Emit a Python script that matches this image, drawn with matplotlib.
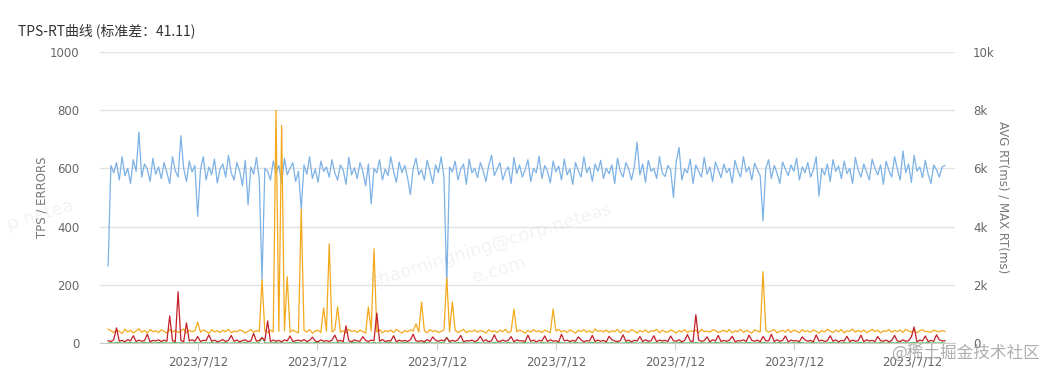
import numpy as np
import matplotlib.pyplot as plt

plt.rcParams['font.family'] = ['DejaVu Sans', 'Noto Sans CJK SC']

# TPS (left axis)
tps = [265, 610, 585, 620, 560, 640, 575, 600, 548, 630, 590, 725, 570, 615, 598, 555, 635, 580, 605, 565,
       620, 585, 548, 640, 592, 570, 712, 600, 555, 625, 588, 610, 435, 595, 640, 560, 605, 578, 632, 550,
       598, 615, 570, 645, 585, 560, 620, 592, 540, 628, 475, 605, 580, 638, 565, 215, 600, 590, 560, 625,
       585, 610, 548, 635, 578, 600, 620, 555, 590, 460, 612, 580, 640, 565, 598, 552, 625, 590, 605, 570,
       630, 585, 560, 612, 595, 545, 638, 578, 602, 565, 620, 590, 540, 615, 478, 600, 585, 630, 560, 598,
       575, 640, 590, 552, 622, 585, 610, 568, 510, 600, 635, 578, 595, 560, 628, 590, 548, 612, 585, 640,
       570, 200, 605, 588, 625, 560, 598, 615, 545, 632, 585, 600, 568, 620, 592, 555, 610, 645, 575, 598,
       620, 560, 590, 605, 548, 638, 582, 612, 570, 595, 630, 555, 600, 585, 642, 565, 610, 590, 550, 625,
       588, 608, 560, 632, 578, 598, 545, 620, 592, 570, 640, 585, 605, 555, 615, 590, 628, 565, 600, 582,
       612, 548, 635, 590, 570, 620, 598, 560, 605, 690, 578, 615, 552, 628, 590, 600, 565, 640, 585, 572,
       610, 595, 500, 625, 672, 560, 598, 585, 632, 548, 612, 590, 570, 638, 580, 605, 555, 622, 595, 568,
       615, 585, 600, 550, 628, 592, 570, 640, 588, 605, 560, 618, 595, 575, 420, 600, 630, 565, 610, 585,
       548, 622, 598, 575, 612, 590, 635, 560, 605, 585, 620, 570, 595, 640, 505, 600, 578, 615, 555, 630,
       590, 608, 565, 625, 582, 600, 548, 638, 595, 570, 615, 588, 560, 632, 600, 578, 612, 545, 625, 592,
       570, 640, 598, 560, 660, 585, 615, 552, 645, 590, 605, 568, 628, 580, 548, 612, 595, 570, 605, 610]

# MAX RT in ms (right axis)
max_rt = [480, 420, 360, 450, 400, 330, 470, 380, 440, 350, 410, 490, 370, 430, 340, 460, 390, 420, 360, 450,
          400, 340, 470, 380, 430, 360, 410, 480, 350, 440, 390, 420, 720, 370, 450, 400, 330, 460, 380, 420,
          360, 440, 390, 470, 350, 410, 380, 450, 420, 340, 400, 460, 370, 430, 390, 2170, 410, 360, 440, 380,
          8000, 400, 7480, 420, 2280, 370, 450, 390, 350, 4590, 430, 380, 460, 340, 410, 440, 360, 1210, 400, 3410,
          380, 450, 1240, 370, 420, 350, 470, 400, 430, 360, 440, 390, 340, 1240, 410, 3240, 380, 460, 350, 420,
          390, 440, 360, 470, 400, 340, 430, 380, 450, 410, 660, 370, 1410, 420, 350, 460, 390, 430, 360, 400,
          450, 2240, 380, 1410, 440, 360, 410, 470, 350, 420, 390, 450, 370, 430, 400, 340, 460, 380, 420, 360,
          440, 390, 470, 350, 410, 1170, 380, 450, 400, 340, 430, 370, 460, 390, 420, 360, 440, 400, 350, 1170,
          410, 470, 380, 430, 360, 450, 400, 340, 440, 390, 460, 370, 420, 350, 480, 400, 430, 380, 450, 360,
          420, 390, 470, 350, 440, 400, 370, 460, 410, 340, 430, 380, 450, 360, 420, 400, 470, 350, 440, 390,
          370, 450, 410, 340, 430, 380, 460, 360, 420, 400, 440, 350, 470, 390, 410, 370, 450, 430, 360, 400,
          440, 380, 460, 350, 420, 390, 470, 360, 430, 400, 340, 450, 410, 380, 2450, 440, 370, 420, 460, 350,
          400, 430, 380, 470, 360, 440, 410, 350, 460, 390, 420, 370, 450, 400, 340, 430, 380, 470, 410, 360,
          440, 390, 460, 350, 420, 400, 480, 370, 430, 380, 450, 360, 410, 470, 390, 440, 350, 420, 400, 460,
          370, 430, 390, 450, 360, 470, 410, 380, 440, 350, 420, 460, 390, 400, 370, 440, 410, 380, 430, 400]

# AVG RT in ms (right axis)
avg_rt = [80, 50, 110, 520, 60, 90, 40, 120, 70, 250, 50, 100, 60, 80, 300, 40, 90, 70, 110, 50,
          100, 60, 930, 80, 50, 1760, 90, 40, 690, 70, 110, 60, 220, 50, 90, 80, 280, 60, 100, 40,
          70, 120, 50, 90, 260, 60, 100, 40, 80, 110, 50, 70, 330, 60, 90, 180, 80, 760, 50, 100,
          60, 90, 40, 110, 70, 240, 50, 80, 100, 60, 120, 50, 90, 200, 70, 40, 110, 60, 80, 50,
          100, 270, 60, 90, 50, 590, 80, 40, 110, 70, 60, 220, 90, 50, 100, 80, 1030, 60, 120, 50,
          80, 70, 250, 40, 100, 60, 90, 50, 110, 300, 70, 60, 80, 40, 120, 50, 210, 90, 60, 100,
          70, 180, 50, 90, 60, 110, 260, 40, 80, 70, 100, 50, 90, 230, 60, 110, 40, 80, 280, 70,
          50, 100, 60, 90, 220, 40, 110, 70, 80, 50, 270, 60, 100, 40, 90, 70, 240, 50, 110, 60,
          80, 40, 300, 70, 100, 50, 90, 60, 210, 110, 40, 80, 70, 260, 50, 100, 60, 90, 40, 230,
          110, 70, 50, 80, 280, 60, 100, 40, 90, 70, 220, 50, 110, 60, 80, 250, 40, 100, 70, 90,
          50, 240, 80, 60, 110, 40, 90, 290, 70, 50, 970, 100, 60, 80, 210, 40, 110, 70, 260, 50,
          90, 60, 100, 230, 40, 80, 70, 110, 50, 270, 90, 60, 100, 40, 220, 80, 70, 300, 50, 110,
          60, 90, 240, 40, 100, 70, 80, 50, 210, 110, 60, 90, 40, 280, 70, 100, 50, 80, 250, 60,
          110, 40, 90, 70, 230, 50, 100, 60, 80, 270, 40, 110, 70, 90, 50, 220, 80, 60, 100, 40,
          90, 260, 70, 50, 110, 60, 80, 210, 550, 40, 100, 70, 240, 50, 90, 60, 280, 110, 70, 80]

# ERRORS (left axis)
errors = [0, 1, 0, 2, 1, 0, 0, 1, 2, 0, 1, 0, 0, 2, 1, 0, 1, 0, 2, 0,
          1, 0, 0, 1, 2, 0, 1, 0, 0, 1, 0, 2, 1, 0, 0, 1, 0, 2, 0, 1,
          0, 1, 2, 0, 0, 1, 0, 1, 0, 2, 0, 0, 1, 0, 2, 20, 1, 0, 0, 1,
          2, 0, 1, 0, 0, 1, 0, 2, 1, 0, 0, 1, 0, 0, 2, 1, 0, 1, 0, 0,
          1, 0, 2, 0, 1, 0, 0, 1, 2, 0, 1, 0, 0, 1, 0, 2, 0, 1, 0, 0,
          2, 1, 0, 0, 1, 0, 2, 0, 1, 0, 0, 1, 0, 2, 1, 0, 0, 1, 0, 2,
          0, 20, 1, 0, 0, 2, 1, 0, 1, 0, 0, 1, 2, 0, 0, 1, 0, 0, 2, 1,
          0, 1, 0, 2, 0, 0, 1, 0, 1, 2, 0, 0, 1, 0, 0, 2, 1, 0, 1, 0,
          0, 2, 1, 0, 0, 1, 0, 2, 0, 1, 0, 0, 1, 2, 0, 1, 0, 0, 1, 0,
          2, 0, 1, 0, 0, 1, 2, 0, 1, 0, 0, 1, 0, 2, 0, 1, 0, 0, 2, 1,
          0, 0, 1, 0, 2, 1, 0, 0, 1, 0, 2, 0, 1, 0, 0, 1, 0, 2, 1, 0,
          0, 1, 2, 0, 0, 1, 0, 1, 0, 2, 0, 0, 1, 0, 2, 1, 0, 0, 1, 0,
          2, 0, 1, 0, 0, 1, 0, 2, 1, 0, 0, 1, 2, 0, 0, 1, 0, 0, 2, 1,
          0, 1, 0, 2, 0, 1, 0, 0, 1, 2, 0, 0, 1, 0, 1, 0, 2, 0, 0, 1,
          1, 0, 2, 0, 0, 1, 0, 1, 2, 0, 0, 1, 0, 2, 0, 1, 0, 0, 1, 0]

x_labels = ['2023/7/12'] * 7
left_ticks = [0, 200, 400, 600, 800, 1000]
right_ticks = [0, 2000, 4000, 6000, 8000, 10000]
right_tick_labels = ['0', '2k', '4k', '6k', '8k', '10k']

W, H = 1047, 370
fig = plt.figure(figsize=(W / 100, H / 100), dpi=100)
ax = fig.add_axes([100 / W, 27 / H, 855 / W, 291 / H])
ax2 = ax.twinx()

x = np.arange(len(tps))
ax.plot(x, tps, color='#7cb2e6', lw=0.9, zorder=2)
ax2.plot(x, max_rt, color='#f4a91c', lw=0.9, zorder=3)
ax2.plot(x, avg_rt, color='#c41f28', lw=0.9, zorder=4)
ax.plot(x, errors, color='#5cc05c', lw=0.8, zorder=5)

# tps axis drawn under the rt axis
ax.set_zorder(ax2.get_zorder() - 1)
ax.patch.set_visible(False)

ax.set_xlim(-2.9, 302.6)
ax.set_ylim(0, 1000)
ax2.set_ylim(0, 10000)

ax.set_yticks(left_ticks)
ax.set_yticklabels([str(v) for v in left_ticks])
ax2.set_yticks(right_ticks)
ax2.set_yticklabels(right_tick_labels)
ax.yaxis.grid(True, color='#e3e3e3', lw=1)
ax.set_axisbelow(True)

ax.set_xticks([32.1, 74.8, 117.5, 160, 202.5, 245, 287.5])
ax.set_xticklabels(x_labels)

for a in (ax, ax2):
    for s in ('top', 'left', 'right'):
        a.spines[s].set_visible(False)
    a.spines['bottom'].set_color('#cccccc')
ax2.spines['bottom'].set_visible(False)

ax.tick_params(axis='y', length=0, pad=15, labelsize=8.5, labelcolor='#666666')
ax2.tick_params(axis='y', length=0, pad=13, labelsize=8.5, labelcolor='#666666')
ax.tick_params(axis='x', length=5, color='#cccccc', pad=4, labelsize=8.5, labelcolor='#666666')

fig.text(42 / W, 173 / H, 'TPS / ERRORS', rotation=90, ha='center', va='center',
         fontsize=8.5, color='#777777')
fig.text(1003 / W, 173 / H, 'AVG RT(ms) / MAX RT(ms)', rotation=270, ha='center', va='center',
         fontsize=8.5, color='#777777')
fig.text(18 / W, (H - 31) / H, 'TPS-RT曲线 (标准差：41.11)', ha='left', va='center',
         fontsize=10, color='#333333', family=['Noto Sans CJK SC', 'DejaVu Sans'])

# watermarks
fig.text(495 / W, (H - 258) / H, 'shaomingning@corp.neteas\ne.com', rotation=17, ha='center', va='center',
         fontsize=13, color='#000000', alpha=0.05, linespacing=1.6)
fig.text(40 / W, (H - 215) / H, 'p netea', rotation=17, ha='center', va='center',
         fontsize=13, color='#000000', alpha=0.05)
fig.text(1040 / W, (H - 353) / H, '@稀土掘金技术社区', ha='right', va='center',
         fontsize=12, color='#a0a0a0', alpha=0.85, family=['Noto Sans CJK SC', 'DejaVu Sans'])

fig.savefig('out.png', dpi=100)
